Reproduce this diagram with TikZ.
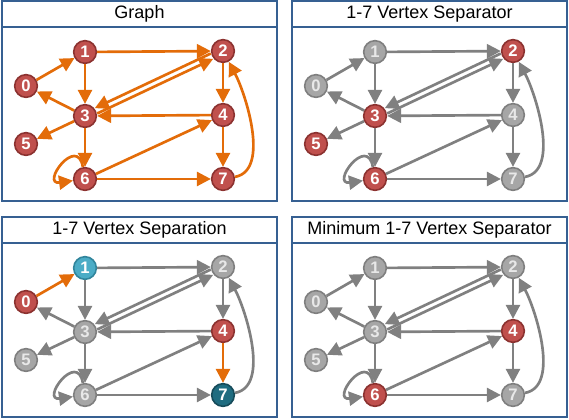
\documentclass[tikz,border=0pt]{standalone}
\usepackage{fontspec}
\setmainfont{Liberation Sans}
\usetikzlibrary{arrows.meta}

\definecolor{framecol}{RGB}{54,96,146}
\definecolor{edgeorange}{RGB}{227,108,9}
\definecolor{edgegray}{RGB}{128,128,128}
\definecolor{nodered}{RGB}{192,80,77}
\definecolor{noderedline}{RGB}{140,50,48}
\definecolor{nodegray}{RGB}{166,166,166}
\definecolor{nodegrayline}{RGB}{127,127,127}
\definecolor{nodegraytext}{RGB}{232,232,232}
\definecolor{nodecyan}{RGB}{75,172,198}
\definecolor{nodecyanline}{RGB}{49,133,156}
\definecolor{nodeteal}{RGB}{31,108,128}
\definecolor{nodetealline}{RGB}{22,75,90}

\tikzset{
  framebox/.style={draw=framecol, line width=0.8pt},
  titlebox/.style={draw=framecol, line width=1.6pt, fill=white, inner sep=0pt,
    minimum width=206pt, minimum height=19.5pt, font=\fontsize{13.5}{15}\selectfont},
  vtx/.style={circle, minimum size=17pt, inner sep=0pt, line width=1.2pt,
    text=white, font=\bfseries\fontsize{12.5}{14}\selectfont},
  vred/.style={fill=nodered, draw=noderedline, text=white},
  vgray/.style={fill=nodegray, draw=nodegrayline, text=nodegraytext},
  vcyan/.style={fill=nodecyan, draw=nodecyanline, text=white},
  vteal/.style={fill=nodeteal, draw=nodetealline, text=white},
  link/.style={draw=edgegray, line width=2pt, -{Triangle[length=10.5pt,width=10.5pt]}},
  hot/.style={draw=edgeorange},
  base/.style={vgray},
  s0/.style={}, s1/.style={}, s2/.style={}, s3/.style={},
  s4/.style={}, s5/.style={}, s6/.style={}, s7/.style={},
  e01/.style={}, e47/.style={}
}

% one framed panel with the graph; #1 title, #2 prefix of node names
\newcommand{\graphpanel}[2]{%
  \draw[framebox] (0,0) rectangle (275,200);
  \node[titlebox] (#2t) at (137.5,13) {#1};
  \foreach \i/\x/\y in {0/24/85,1/83/51,2/221/50,3/83/115,4/221/114,5/24/143,6/83/178,7/221/178}
    \node[vtx,base,s\i] (#2\i) at (\x,\y) {\i};
  \draw[link,e01] (#20) -- (#21);
  \draw[link] (#21) -- (#22);
  \draw[link] (#21) -- (#23);
  \draw[link,transform canvas={shift={(-0.9pt,2pt)}}] (#22) -- (#23);
  \draw[link,transform canvas={shift={(0.9pt,-2pt)}}] (#23) -- (#22);
  \draw[link] (#22) -- (#24);
  \draw[link] (#23) -- (#20);
  \draw[link] (#23) -- (#25);
  \draw[link] (#23) -- (#26);
  \draw[link] (#24) -- (#23);
  \draw[link,e47] (#24) -- (#27);
  \draw[link] (#26) -- (#24);
  \draw[link] (#26) -- (#27);
  \draw[link] (#26) to[out=100,in=188,distance=25pt] (#26);
  \draw[link] (#27) to[out=10,in=-62,looseness=0.8] (#22);
}

\begin{document}
\begin{tikzpicture}[x=0.75pt,y=-0.75pt]
  \useasboundingbox (0,0) rectangle (569,420);
  \begin{scope}[shift={(2,1)}, base/.style={vred}, link/.append style={draw=edgeorange}]
    \graphpanel{Graph}{a}
  \end{scope}
  \begin{scope}[shift={(292,1)}, s2/.style={vred}, s3/.style={vred}, s5/.style={vred}, s6/.style={vred}]
    \graphpanel{1-7 Vertex Separator}{b}
  \end{scope}
  \begin{scope}[shift={(2,217)}, s0/.style={vred}, s1/.style={vcyan}, s4/.style={vred}, s7/.style={vteal},
      e01/.style={hot}, e47/.style={hot}]
    \graphpanel{1-7 Vertex Separation}{c}
  \end{scope}
  \begin{scope}[shift={(292,217)}, s4/.style={vred}, s6/.style={vred}]
    \graphpanel{Minimum 1-7 Vertex Separator}{d}
  \end{scope}
\end{tikzpicture}
\end{document}
